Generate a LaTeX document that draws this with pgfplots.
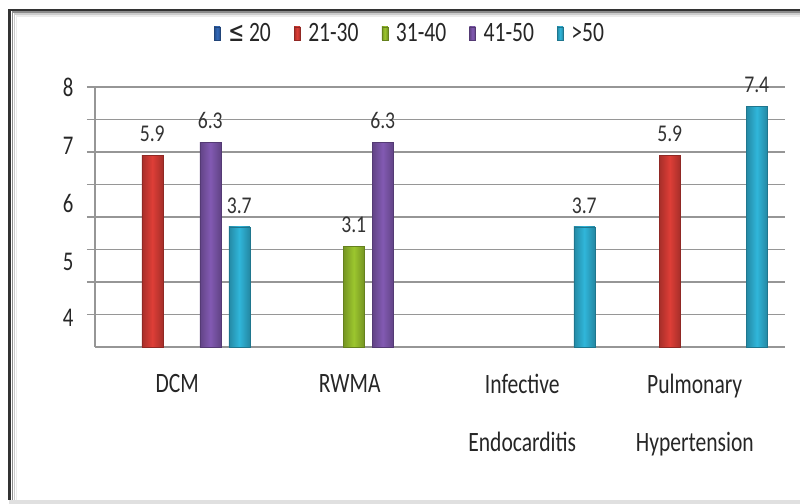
\documentclass[border=0pt]{standalone}
\usepackage{pgfplots}
\pgfplotsset{compat=1.18}
\usepackage{fontspec}
\setmainfont{Carlito}[FakeStretch=0.77]
\newfontfamily\dv{DejaVu Sans}[FakeStretch=0.68]
\definecolor{cBlue}{RGB}{50,105,185}
\definecolor{cRed}{RGB}{222,62,55}
\definecolor{cGreen}{RGB}{156,198,46}
\definecolor{cPurple}{RGB}{130,90,178}
\definecolor{cCyan}{RGB}{48,182,218}
\definecolor{cGrid}{RGB}{150,150,150}
\pgfplotsset{
  mylegend/.style={legend image code/.code={\fill[##1] (0bp,-7bp) rectangle (6bp,6bp);}},
  mybar/.style={draw=#1!65!black, left color=#1!75!black, right color=#1!75!black, middle color=#1, mylegend, forget plot}
}
\begin{document}
\begin{tikzpicture}[x=1bp,y=1bp]
\useasboundingbox (0,0) rectangle (800,504);
% frame
\fill[black!12] (9,0) rectangle (800,4);
\draw[black!8,line width=2] (16.5,4) -- (16.5,487.5) -- (800,487.5);
\draw[black!20,line width=2] (14.5,4) -- (14.5,489.5) -- (800,489.5);
\draw[black!45,line width=2] (12.5,4) -- (12.5,491.5) -- (800,491.5);
\draw[black!80,line width=2.5] (9.5,4) -- (9.5,494) -- (800,494);
\begin{axis}[
  at={(95bp,157bp)}, anchor=south west, scale only axis,
  width=690bp, height=260bp,
  xmin=-0.5, xmax=3.5, ymin=0, ymax=8,
  axis x line*=bottom, axis y line*=left,
  axis line style={draw=cGrid, line width=1.4bp},
  ytick={1,...,8}, yticklabels={},
  ymajorgrids, grid style={draw=cGrid, line width=1.4bp},
  major tick length=8bp, tick align=outside,
  tick style={draw=cGrid, line width=1.4bp},
  xtick={0,1,2,3}, xtick style={draw=none},
  xticklabels={DCM, RWMA, {Infective\\Endocarditis}, {Pulmonary\\Hypertension}},
  xticklabel style={align=center, font=\fontsize{28bp}{58bp}\selectfont, text=black!85, yshift=-16bp, xshift=-4bp},
  extra y ticks={0.9,2.63,4.42,6.2,8},
  extra y tick labels={4,5,6,7,8},
  extra y tick style={major tick length=0pt, grid=none, tick style={draw=none},
     tick label style={font=\fontsize{27bp}{30bp}\selectfont, text=black!85, xshift=-18bp}},
  ybar, bar width=21bp,
  nodes near coords,
  nodes near coords style={font=\fontsize{24bp}{26bp}\selectfont\addfontfeatures{FakeStretch=0.82}, anchor=south, yshift=10bp, text=black!80},
  /pgf/number format/assume math mode=true,
  clip=false,
  legend columns=5,
  legend style={at={(0.4565,1.208)}, anchor=center, draw=none, fill=none,
     font=\fontsize{28bp}{30bp}\selectfont, text=black!85,
     /tikz/every even column/.append style={column sep=21bp},
     /tikz/every odd column/.append style={column sep=6bp}},
]
\addlegendimage{mybar=cBlue}
\addlegendentry{{\dv ≤}\,20}
\addlegendimage{mybar=cRed}
\addlegendentry{21-30}
\addlegendimage{mybar=cGreen}
\addlegendentry{31-40}
\addlegendimage{mybar=cPurple}
\addlegendentry{41-50}
\addlegendimage{mybar=cCyan}
\addlegendentry{>50}
% 21-30
\addplot[mybar=cRed, bar shift=-29bp] coordinates {(0,5.9)};
\addplot[mybar=cRed, bar shift=-29bp] coordinates {(3,5.9)};
% 31-40
\addplot[mybar=cGreen, bar shift=0bp] coordinates {(1,3.1)};
% 41-50
\addplot[mybar=cPurple, bar shift=29bp] coordinates {(0,6.3)};
\addplot[mybar=cPurple, bar shift=29bp] coordinates {(1,6.3)};
% >50
\addplot[mybar=cCyan, bar shift=58bp] coordinates {(0,3.7)};
\addplot[mybar=cCyan, bar shift=58bp] coordinates {(2,3.7)};
\addplot[mybar=cCyan, bar shift=58bp] coordinates {(3,7.4)};
\end{axis}
\end{tikzpicture}
\end{document}
